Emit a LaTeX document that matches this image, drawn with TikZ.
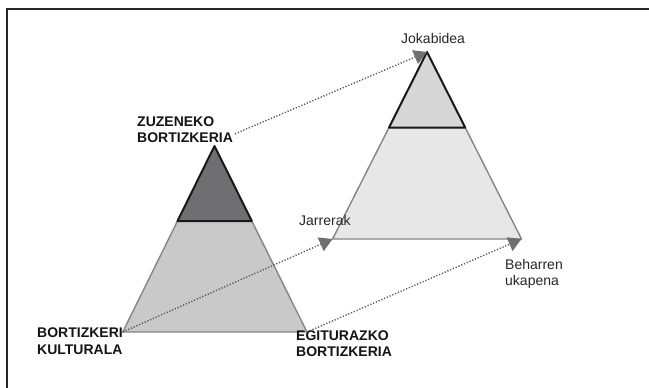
\documentclass[tikz,border=0pt]{standalone}
\usepackage{fontspec}
\setmainfont{Liberation Sans}
\usetikzlibrary{arrows.meta}
\definecolor{topdark}{HTML}{6F6F71}
\definecolor{lowdark}{HTML}{C9C9C9}
\definecolor{toplight}{HTML}{D7D7D7}
\definecolor{lowlight}{HTML}{E7E7E7}
\definecolor{edgegrey}{HTML}{858585}
\definecolor{dotgrey}{HTML}{555555}
\begin{document}
\begin{tikzpicture}[x=1pt,y=-1pt,
		lbl/.style={inner sep=0pt,anchor=north west,align=left,text=black!85,font=\fontsize{14}{16}\selectfont},
		blbl/.style={lbl,text=black!92,font=\fontsize{14}{16.3}\selectfont\bfseries},
		lowpart/.style={draw=edgegrey,line width=1.4pt,line join=round},
		toppart/.style={draw=black!90,line width=2pt,line join=round},
		link/.style={dotgrey,line width=1.4pt,dash pattern=on 1.2pt off 1.8pt,
			-{Triangle[length=13pt,width=15pt,color=topdark,fill=topdark,line width=0pt]}}]
		\useasboundingbox (0,0) rectangle (649,388);
		\draw [black!85,line width=2pt] (7,400) -- (7,9) -- (660,9);
		% left pyramid
		\coordinate (la) at (214.5,146);
		\coordinate (lb) at (122.7,332);
		\coordinate (lc) at (307,332);
		\coordinate (ld) at (177.5,221);
		\coordinate (le) at (251.8,221);
		\draw [lowpart,fill=lowdark] (ld) -- (lb) -- (lc) -- (le) -- cycle;
		\draw [toppart,fill=topdark] (la) -- (ld) -- (le) -- cycle;
		% right pyramid
		\coordinate (ra) at (427,52);
		\coordinate (rb) at (332.6,239);
		\coordinate (rc) at (521.5,239);
		\coordinate (rd) at (389,127.5);
		\coordinate (re) at (465.2,127.5);
		\draw [lowpart,fill=lowlight] (rd) -- (rb) -- (rc) -- (re) -- cycle;
		\draw [toppart,fill=toplight] (ra) -- (rd) -- (re) -- cycle;
		% labels
		\node [blbl] (zuzen) at (137,116.5) {ZUZENEKO\\BORTIZKERIA};
		\node [blbl] (kultu) at (37,328) {BORTIZKERI\\KULTURALA};
		\node [blbl] (egitu) at (296,330.5) {EGITURAZKO\\BORTIZKERIA};
		\node [lbl] (jokab) at (401,33) {Jokabidea};
		\node [lbl] (jarre) at (299,215.5) {Jarrerak};
		\node [lbl] (behar) at (505,259.5) {Beharren\\ukapena};
		% links
		\draw [link] ([shift={(2,4)}]zuzen.east) -- (ra);
		\draw [link] (lb) -- (rb);
		\draw [link] (lc) -- (rc);
\end{tikzpicture}
\end{document}
